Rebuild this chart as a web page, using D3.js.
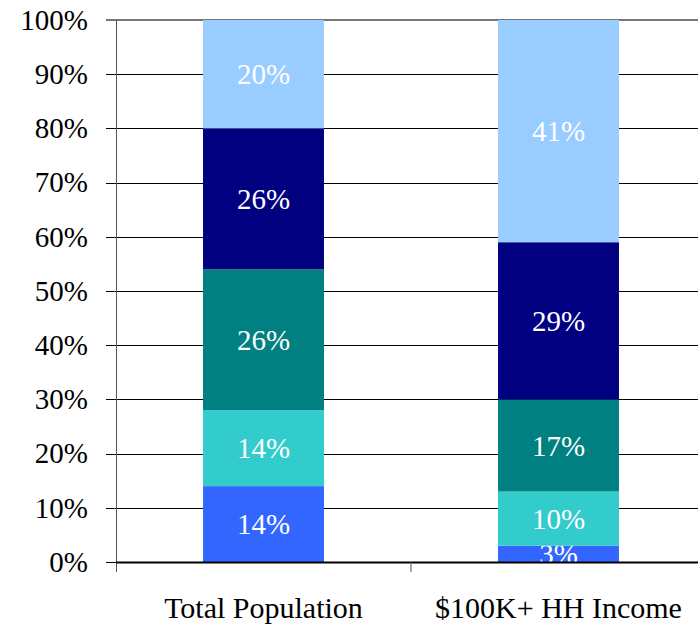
<!DOCTYPE html>
<html>
<head>
<meta charset="utf-8">
<script src="https://cdn.jsdelivr.net/npm/d3@7/dist/d3.min.js"></script>
<style>
  body { margin: 0; background: #fff; }
</style>
</head>
<body>
<div id="chart"></div>
<script>
var categories = ['Total Population', '$100K+ HH Income'];
var segments = ['s1', 's2', 's3', 's4', 's5'];
var segColors = ['#3366FF', '#33CCCC', '#008080', '#000080', '#99CCFF'];
var totalPopulation = [14, 14, 26, 26, 20];
var highIncome = [3, 10, 17, 29, 41];
var yTicks = [0, 10, 20, 30, 40, 50, 60, 70, 80, 90, 100];

var width = 698, height = 628;
var marginLeft = 116, marginTop = 20, plotW = 590, plotH = 542;
var fontSize = 29;
var serif = '"Liberation Serif", "Times New Roman", serif';

var svg = d3.select('#chart').append('svg')
    .attr('width', width)
    .attr('height', height)
    .style('font-family', serif);

var x = d3.scaleBand().domain(categories).range([0, plotW]).paddingInner(0.59).paddingOuter(0.295);
var y = d3.scaleLinear().domain([0, 100]).range([plotH, 0]);

var g = svg.append('g').attr('transform', 'translate(' + marginLeft + ',' + marginTop + ')');

// gridlines
g.selectAll('line.grid')
    .data(yTicks.filter(function(d) { return d < 100; }))
    .enter().append('line')
    .attr('x1', -10).attr('x2', plotW)
    .attr('y1', function(d) { return Math.round(y(d)) + 0.5; })
    .attr('y2', function(d) { return Math.round(y(d)) + 0.5; })
    .attr('stroke', '#000').attr('stroke-width', 1);

g.append('line')
    .attr('x1', -10).attr('x2', plotW)
    .attr('y1', y(100)).attr('y2', y(100))
    .attr('stroke', '#777').attr('stroke-width', 2);

var rows = [totalPopulation, highIncome].map(function(vals, i) {
    var row = { cat: categories[i] };
    segments.forEach(function(s, j) { row[s] = vals[j]; });
    return row;
});
var stacked = d3.stack().keys(segments)(rows);

svg.append('clipPath').attr('id', 'plotclip')
    .append('rect').attr('x', 0).attr('y', 0).attr('width', plotW).attr('height', plotH);

var bars = g.append('g').attr('clip-path', 'url(#plotclip)');

var layers = bars.selectAll('g.layer')
    .data(stacked)
    .enter().append('g')
    .attr('fill', function(d, i) { return segColors[i]; });

layers.selectAll('rect')
    .data(function(d) { return d; })
    .enter().append('rect')
    .attr('x', function(d) { return x(d.data.cat); })
    .attr('width', x.bandwidth())
    .attr('y', function(d) { return y(d[1]); })
    .attr('height', function(d) { return y(d[0]) - y(d[1]); });

layers.selectAll('text')
    .data(function(d) { return d; })
    .enter().append('text')
    .attr('x', function(d) { return x(d.data.cat) + x.bandwidth() / 2; })
    .attr('y', function(d) { return (y(d[0]) + y(d[1])) / 2; })
    .attr('dy', '0.35em')
    .attr('text-anchor', 'middle')
    .attr('fill', '#fff')
    .attr('font-size', fontSize)
    .text(function(d) { return (d[1] - d[0]) + '%'; });

// y axis
var yAxis = d3.axisLeft(y).tickValues(yTicks).tickSize(0).tickPadding(28)
    .tickFormat(function(d) { return d + '%'; });
var ya = g.append('g').call(yAxis).attr('font-family', null);
ya.select('.domain').remove();
ya.selectAll('text').attr('font-size', fontSize).attr('fill', '#000').style('font-family', serif);

g.append('line')
    .attr('x1', 0.5).attr('x2', 0.5).attr('y1', 0).attr('y2', plotH + 10)
    .attr('stroke', '#555').attr('stroke-width', 1);

// x axis
g.append('line')
    .attr('x1', 0).attr('x2', plotW).attr('y1', plotH + 0.5).attr('y2', plotH + 0.5)
    .attr('stroke', '#000').attr('stroke-width', 2);

g.selectAll('line.cattick')
    .data([x.step()])
    .enter().append('line')
    .attr('x1', function(d) { return d; }).attr('x2', function(d) { return d; })
    .attr('y1', plotH).attr('y2', plotH + 10)
    .attr('stroke', '#555');

g.selectAll('text.cat')
    .data(categories)
    .enter().append('text')
    .attr('x', function(d) { return x(d) + x.bandwidth() / 2; })
    .attr('y', 618 - marginTop)
    .attr('text-anchor', 'middle')
    .attr('font-size', 30)
    .attr('fill', '#000')
    .text(function(d) { return d; });
</script>
</body>
</html>
